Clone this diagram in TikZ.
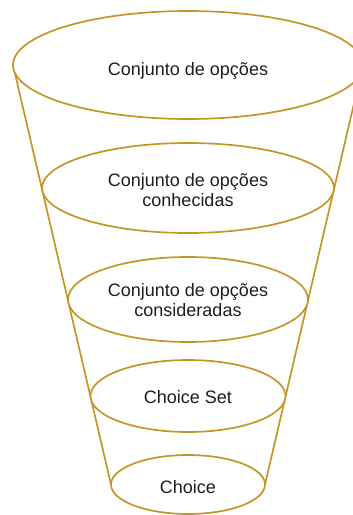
\documentclass[tikz,border=0pt]{standalone}
\usepackage{fontspec}
\setmainfont{Liberation Sans}
\usetikzlibrary{shapes.geometric,backgrounds}
\definecolor{funnelgold}{RGB}{196,150,40}
\definecolor{txtgray}{RGB}{30,30,30}
\newcommand\lvltext[2]{\raisebox{#1}[0pt][0pt]{\begin{tabular}[t]{@{}c@{}}#2\end{tabular}}}
\begin{document}
\begin{tikzpicture}[x=1pt,y=-1pt,
  level/.style={ellipse,draw=funnelgold,line width=1.7pt,fill=white,inner sep=0pt,outer sep=0pt,
    text=txtgray,font=\fontsize{18}{20}\selectfont},
  side/.style={draw=funnelgold,line width=1.7pt}]
\useasboundingbox (0,0) rectangle (353,515);
\clip (0,0) rectangle (353,515);
\node[level,minimum width=350pt,minimum height=108pt] (e1) at (188,65) {\lvltext{-10pt}{Conjunto de opções}};
\node[level,minimum width=292pt,minimum height=90pt] (e2) at (188,188) {\lvltext{1.3pt}{Conjunto de opções\\conhecidas}};
\node[level,minimum width=240pt,minimum height=85pt] (e3) at (188,299.5) {\lvltext{2.8pt}{Conjunto de opções\\consideradas}};
\node[level,minimum width=195pt,minimum height=72pt] (e4) at (188,396) {\lvltext{-7pt}{Choice Set}};
\node[level,minimum width=154pt,minimum height=59pt] (e5) at (188,484.5) {\lvltext{-8.5pt}{Choice}};
\begin{scope}[on background layer]
\draw[side] (e1.west) -- (e5.west);
\draw[side] (e1.east) -- (e5.east);
\end{scope}
\end{tikzpicture}
\end{document}
